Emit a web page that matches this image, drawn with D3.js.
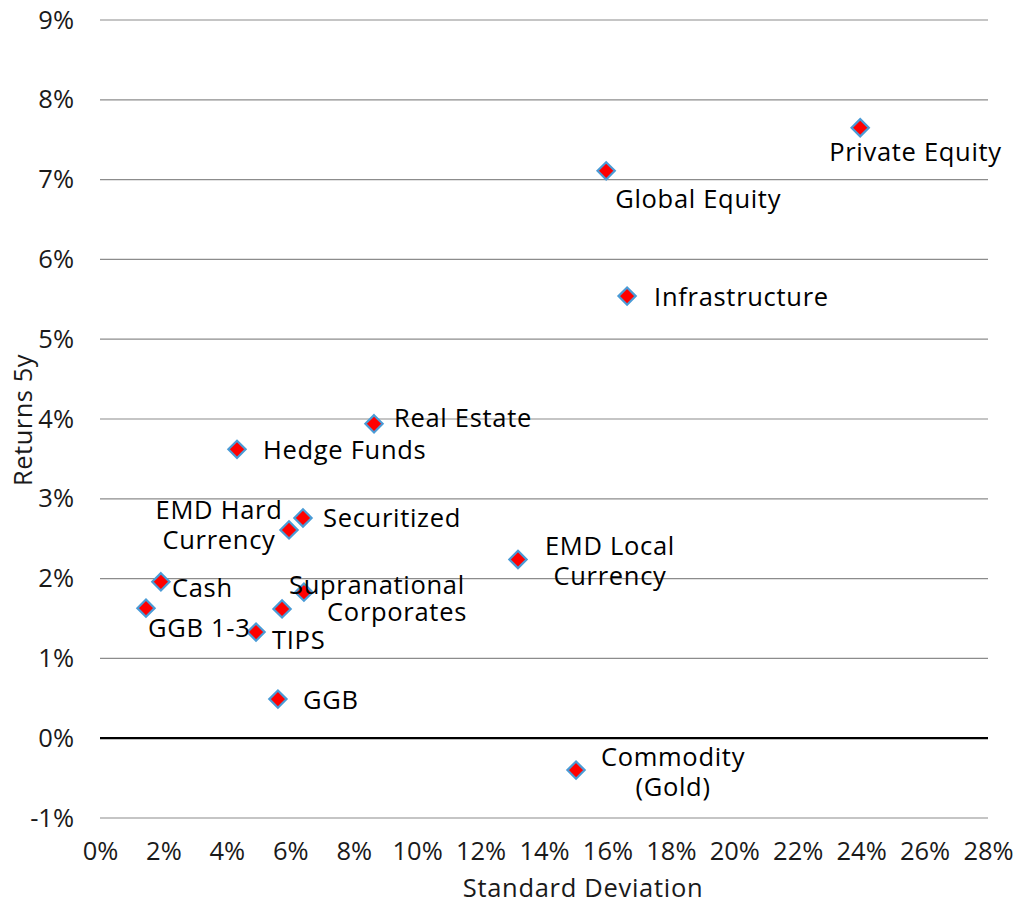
<!DOCTYPE html>
<html>
<head>
<meta charset="utf-8">
<script src="https://cdn.jsdelivr.net/npm/d3@7"></script>
<style>
  body { margin: 0; background: #fff; }
  svg { display: block; font-family: "Open Sans", "Noto Sans", sans-serif; }
</style>
</head>
<body>
<svg width="1015" height="904"></svg>
<script>
// asset classes, std dev (%) and 5y returns (%)
const assets = ['Private Equity', 'Global Equity', 'Infrastructure', 'Real Estate', 'Hedge Funds',
  'EMD Hard Currency', 'Securitized', 'EMD Local Currency', 'Cash', 'GGB 1-3',
  'Supranational', 'Corporates', 'TIPS', 'GGB', 'Commodity (Gold)'];
const stdDev = [23.97, 15.96, 16.62, 8.64, 4.32, 5.96, 6.40, 13.18, 1.92, 1.45, 6.43, 5.74, 4.92, 5.61, 15.01];
const returns5y = [7.65, 7.11, 5.54, 3.94, 3.62, 2.61, 2.76, 2.24, 1.96, 1.63, 1.83, 1.62, 1.33, 0.49, -0.40];

// label text lines and placement relative to the marker
const labelLines = [['Private Equity'], ['Global Equity'], ['Infrastructure'], ['Real Estate'], ['Hedge Funds'],
  ['EMD Hard', 'Currency'], ['Securitized'], ['EMD Local', 'Currency'], ['Cash'], ['GGB 1-3'],
  ['Supranational'], ['Corporates'], ['TIPS'], ['GGB'], ['Commodity', '(Gold)']];
const labelAnchor = ['start', 'start', 'start', 'start', 'start', 'middle', 'start', 'middle', 'start', 'start',
  'middle', 'middle', 'start', 'start', 'middle'];
const labelDx = [-31, 9, 27, 20, 26, -70, 20, 92, 11, 2, 73, 115, 16, 25, 97];
const labelDy = [24, 28, 1, -6, 1, -20, 0, -13, 6, 20, -7, 3, 8, 1, -13];

const xTicks = d3.range(0, 29, 2);
const yTicks = d3.range(-1, 10, 1);

const svg = d3.select('svg');
const margin = { top: 20, right: 27, bottom: 86, left: 100 };
const width = 1015, height = 904;
const fontSize = 25.5;

const x = d3.scaleLinear().domain([0, 28]).range([margin.left, width - margin.right]);
const y = d3.scaleLinear().domain([-1, 9]).range([height - margin.bottom, margin.top]);

// horizontal gridlines
svg.append('g').selectAll('line').data(yTicks)
  .enter().append('line')
    .attr('x1', x(0)).attr('x2', x(28))
    .attr('y1', d => y(d)).attr('y2', d => y(d))
    .attr('stroke', d => d === 0 ? '#000' : '#8c8c8c')
    .attr('stroke-width', d => d === 0 ? 2.2 : 1.2);

// y axis labels
const yAxis = d3.axisLeft(y).tickValues(yTicks).tickFormat(d => d + '%').tickSize(0).tickPadding(26);
svg.append('g').attr('transform', `translate(${x(0)},0)`).call(yAxis)
  .call(g => g.select('.domain').remove())
  .selectAll('text').attr('font-size', fontSize).attr('fill', '#1a1a1a')
  .attr('font-family', '"Open Sans", "Noto Sans", sans-serif');

// x axis labels
const xAxis = d3.axisBottom(x).tickValues(xTicks).tickFormat(d => d + '%').tickSize(0).tickPadding(24);
svg.append('g').attr('transform', `translate(0,${y(-1)})`).call(xAxis)
  .call(g => g.select('.domain').remove())
  .selectAll('text').attr('font-size', fontSize).attr('fill', '#1a1a1a')
  .attr('font-family', '"Open Sans", "Noto Sans", sans-serif');

// axis titles
svg.append('text')
  .attr('x', 583).attr('y', 897)
  .attr('text-anchor', 'middle').attr('font-size', fontSize).attr('letter-spacing', 0.7).attr('fill', '#1a1a1a')
  .text('Standard Deviation');

svg.append('text')
  .attr('transform', `translate(32,${420}) rotate(-90)`)
  .attr('text-anchor', 'middle').attr('font-size', fontSize).attr('letter-spacing', 0.5).attr('fill', '#1a1a1a')
  .text('Returns 5y');

// points
const points = assets.map((name, i) => ({ name, sd: stdDev[i], ret: returns5y[i], i }));
const diamond = d3.symbol().type(d3.symbolDiamond2).size(190);

svg.append('g').selectAll('path').data(points)
  .enter().append('path')
    .attr('d', diamond)
    .attr('transform', d => `translate(${x(d.sd)},${y(d.ret)})`)
    .attr('fill', '#ff0000')
    .attr('stroke', '#4a9bd6')
    .attr('stroke-width', 2.2);

// data labels
const labels = svg.append('g').selectAll('text').data(points)
  .enter().append('text')
    .attr('text-anchor', d => labelAnchor[d.i])
    .attr('font-size', fontSize).attr('letter-spacing', 0.7).attr('fill', '#000')
    .attr('transform', d => `translate(${x(d.sd) + labelDx[d.i]},${y(d.ret) + labelDy[d.i]})`);

labels.selectAll('tspan').data(d => labelLines[d.i])
  .enter().append('tspan')
    .attr('x', 0)
    .attr('y', (t, j) => j * 30)
    .attr('dy', '0.35em')
    .text(t => t);
</script>
</body>
</html>
